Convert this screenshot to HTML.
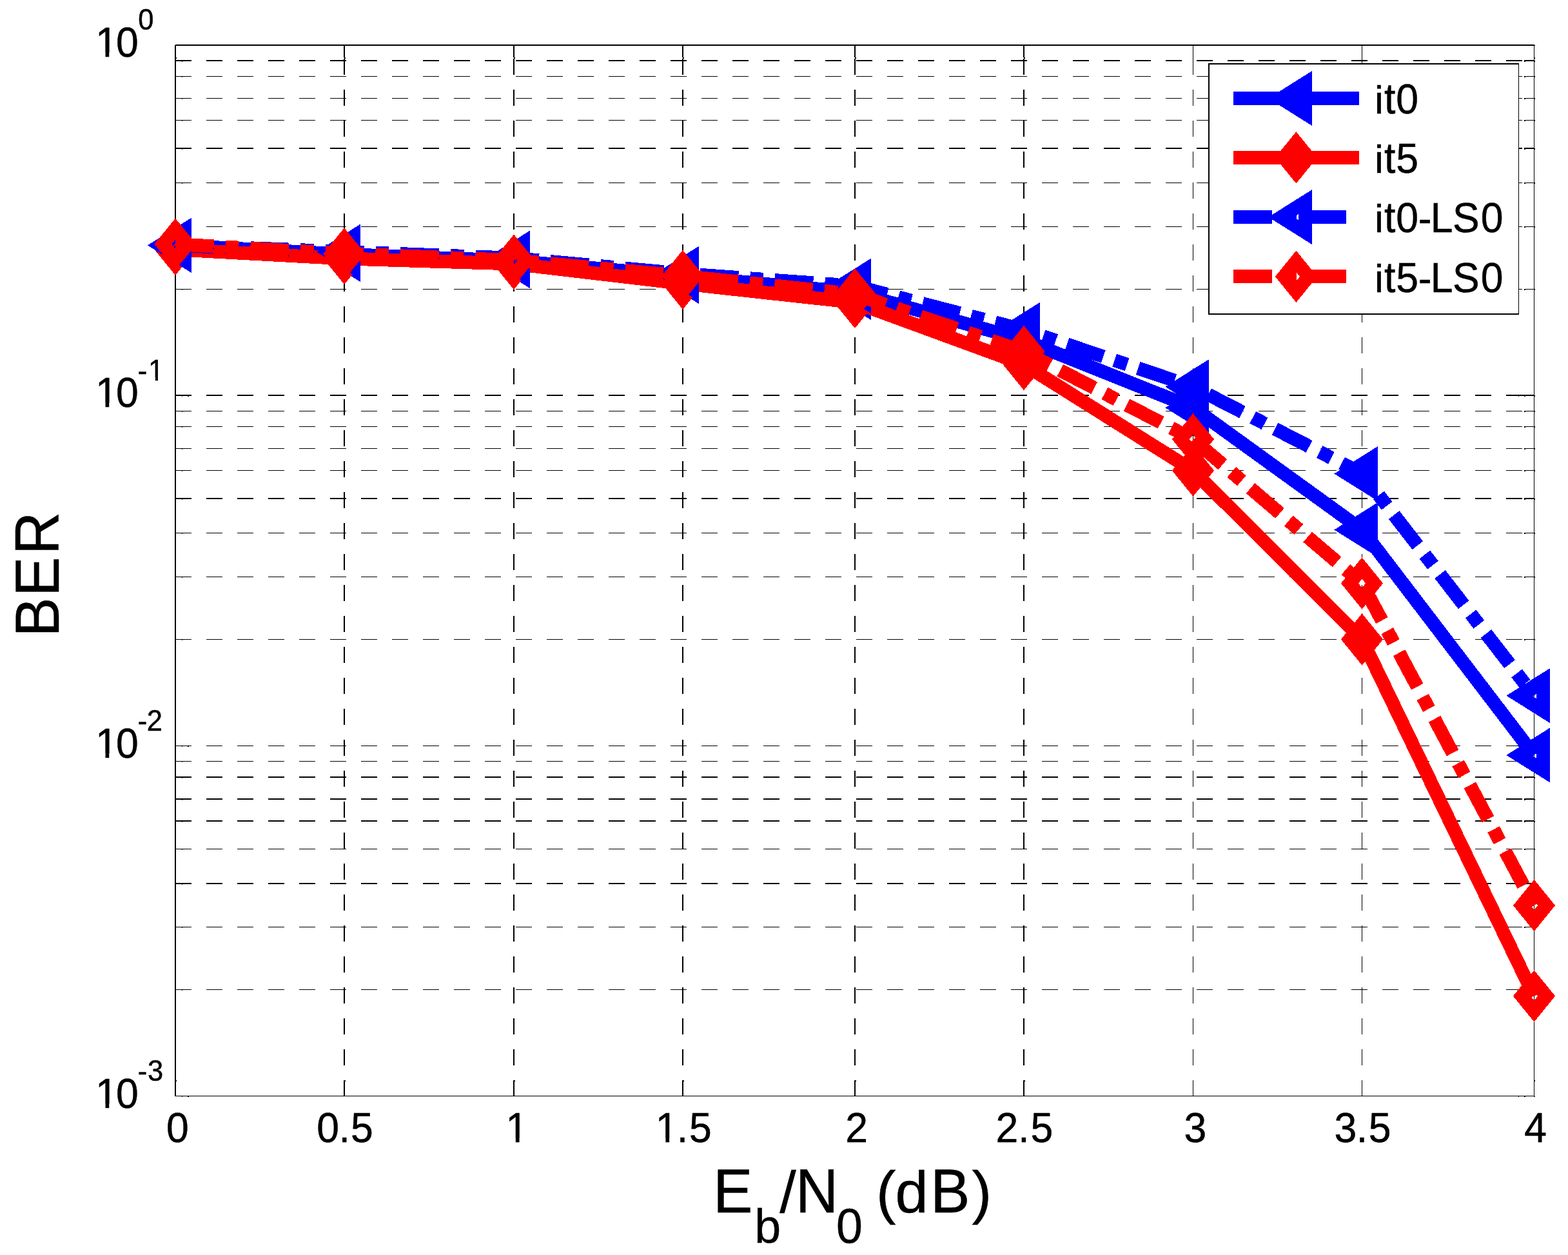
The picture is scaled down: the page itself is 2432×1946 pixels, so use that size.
<!DOCTYPE html>
<html lang="en"><head><meta charset="utf-8"><title>BER vs Eb/N0</title>
<style>html,body{margin:0;padding:0;background:#fff}body{width:2432px;height:1946px}svg{display:block}text{font-family:"Liberation Sans","DejaVu Sans",sans-serif;fill:#000;stroke:#000;stroke-width:0.5px}.tk{font-size:62.5px}.ex{font-size:41.7px}.lb{font-size:91.7px}.sb{font-size:73px}</style></head><body>
<svg xmlns="http://www.w3.org/2000/svg" width="2432" height="1946" viewBox="0 0 2432 1946">
<rect x="0" y="0" width="2432" height="1946" fill="#fff"/>
<g id="grid" stroke="#000" fill="none" shape-rendering="crispEdges">
<line x1="534" y1="1700" x2="534" y2="69" stroke-width="2" stroke-dasharray="25 23"/>
<line x1="797" y1="1700" x2="797" y2="69" stroke-width="2" stroke-dasharray="25 23"/>
<line x1="1059" y1="1700" x2="1059" y2="69" stroke-width="2" stroke-dasharray="25 23"/>
<line x1="1326" y1="1700" x2="1326" y2="69" stroke-width="2" stroke-dasharray="25 23"/>
<line x1="1588" y1="1700" x2="1588" y2="69" stroke-width="2" stroke-dasharray="25 23"/>
<line x1="1850.5" y1="1700" x2="1850.5" y2="69" stroke-width="1" stroke-dasharray="25 23"/>
<line x1="2112.5" y1="1700" x2="2112.5" y2="69" stroke-width="1" stroke-dasharray="25 23"/>
<line x1="272" y1="94" x2="2379" y2="94" stroke-width="2" stroke-dasharray="25 23"/>
<line x1="272" y1="118.5" x2="2379" y2="118.5" stroke-width="1" stroke-dasharray="25 23"/>
<line x1="272" y1="152.5" x2="2379" y2="152.5" stroke-width="1" stroke-dasharray="25 23"/>
<line x1="272" y1="186.5" x2="2379" y2="186.5" stroke-width="1" stroke-dasharray="25 23"/>
<line x1="272" y1="230" x2="2379" y2="230" stroke-width="2" stroke-dasharray="25 23"/>
<line x1="272" y1="283.5" x2="2379" y2="283.5" stroke-width="1" stroke-dasharray="25 23"/>
<line x1="272" y1="351.5" x2="2379" y2="351.5" stroke-width="1" stroke-dasharray="25 23"/>
<line x1="272" y1="448.5" x2="2379" y2="448.5" stroke-width="1" stroke-dasharray="25 23"/>
<line x1="272" y1="613" x2="2379" y2="613" stroke-width="2" stroke-dasharray="25 23"/>
<line x1="272" y1="637.5" x2="2379" y2="637.5" stroke-width="1" stroke-dasharray="25 23"/>
<line x1="272" y1="661.5" x2="2379" y2="661.5" stroke-width="1" stroke-dasharray="25 23"/>
<line x1="272" y1="695.5" x2="2379" y2="695.5" stroke-width="1" stroke-dasharray="25 23"/>
<line x1="272" y1="729.5" x2="2379" y2="729.5" stroke-width="1" stroke-dasharray="25 23"/>
<line x1="272" y1="773" x2="2379" y2="773" stroke-width="2" stroke-dasharray="25 23"/>
<line x1="272" y1="826.5" x2="2379" y2="826.5" stroke-width="1" stroke-dasharray="25 23"/>
<line x1="272" y1="894.5" x2="2379" y2="894.5" stroke-width="1" stroke-dasharray="25 23"/>
<line x1="272" y1="991.5" x2="2379" y2="991.5" stroke-width="1" stroke-dasharray="25 23"/>
<line x1="272" y1="1156.5" x2="2379" y2="1156.5" stroke-width="1" stroke-dasharray="25 23"/>
<line x1="272" y1="1180.5" x2="2379" y2="1180.5" stroke-width="1" stroke-dasharray="25 23"/>
<line x1="272" y1="1205" x2="2379" y2="1205" stroke-width="2" stroke-dasharray="25 23"/>
<line x1="272" y1="1239" x2="2379" y2="1239" stroke-width="2" stroke-dasharray="25 23"/>
<line x1="272" y1="1273" x2="2379" y2="1273" stroke-width="2" stroke-dasharray="25 23"/>
<line x1="272" y1="1316.5" x2="2379" y2="1316.5" stroke-width="1" stroke-dasharray="25 23"/>
<line x1="272" y1="1370" x2="2379" y2="1370" stroke-width="2" stroke-dasharray="25 23"/>
<line x1="272" y1="1437.5" x2="2379" y2="1437.5" stroke-width="1" stroke-dasharray="25 23"/>
<line x1="272" y1="1534.5" x2="2379" y2="1534.5" stroke-width="1" stroke-dasharray="25 23"/>
</g>
<g id="axes" fill="#000" stroke="none" shape-rendering="crispEdges">
<rect x="271" y="69" width="2" height="1631"/>
<rect x="271" y="69" width="2109" height="2"/>
<rect x="2379" y="69" width="1" height="1631"/>
<rect x="271" y="1699" width="2109" height="1"/>
<rect x="533" y="70" width="2" height="21"/>
<rect x="533" y="1678" width="2" height="21"/>
<rect x="796" y="70" width="2" height="21"/>
<rect x="796" y="1678" width="2" height="21"/>
<rect x="1058" y="70" width="2" height="21"/>
<rect x="1058" y="1678" width="2" height="21"/>
<rect x="1325" y="70" width="2" height="21"/>
<rect x="1325" y="1678" width="2" height="21"/>
<rect x="1587" y="70" width="2" height="21"/>
<rect x="1587" y="1678" width="2" height="21"/>
<rect x="1850" y="70" width="1" height="21"/>
<rect x="1850" y="1678" width="1" height="21"/>
<rect x="2112" y="70" width="1" height="21"/>
<rect x="2112" y="1678" width="1" height="21"/>
<rect x="2364" y="93" width="15" height="2"/>
<rect x="273" y="93" width="10" height="2"/>
<rect x="282" y="95" width="1" height="1"/>
<rect x="2364" y="95" width="2" height="1"/>
<rect x="2380" y="94" width="1" height="2"/>
<rect x="2364" y="118" width="15" height="1"/>
<rect x="273" y="118" width="10" height="1"/>
<rect x="282" y="119" width="1" height="1"/>
<rect x="2364" y="119" width="2" height="1"/>
<rect x="2380" y="118" width="1" height="2"/>
<rect x="2364" y="152" width="15" height="1"/>
<rect x="273" y="152" width="10" height="1"/>
<rect x="282" y="153" width="1" height="1"/>
<rect x="2364" y="153" width="2" height="1"/>
<rect x="2380" y="152" width="1" height="2"/>
<rect x="2364" y="186" width="15" height="1"/>
<rect x="273" y="186" width="10" height="1"/>
<rect x="282" y="187" width="1" height="1"/>
<rect x="2364" y="187" width="2" height="1"/>
<rect x="2380" y="186" width="1" height="2"/>
<rect x="2364" y="229" width="15" height="2"/>
<rect x="273" y="229" width="10" height="2"/>
<rect x="282" y="231" width="1" height="1"/>
<rect x="2364" y="231" width="2" height="1"/>
<rect x="2380" y="230" width="1" height="2"/>
<rect x="2364" y="283" width="15" height="1"/>
<rect x="273" y="283" width="10" height="1"/>
<rect x="282" y="284" width="1" height="1"/>
<rect x="2364" y="284" width="2" height="1"/>
<rect x="2380" y="283" width="1" height="2"/>
<rect x="2364" y="351" width="15" height="1"/>
<rect x="273" y="351" width="10" height="1"/>
<rect x="282" y="352" width="1" height="1"/>
<rect x="2364" y="352" width="2" height="1"/>
<rect x="2380" y="351" width="1" height="2"/>
<rect x="2364" y="448" width="15" height="1"/>
<rect x="273" y="448" width="10" height="1"/>
<rect x="282" y="449" width="1" height="1"/>
<rect x="2364" y="449" width="2" height="1"/>
<rect x="2380" y="448" width="1" height="2"/>
<rect x="2355" y="612" width="24" height="2"/>
<rect x="273" y="612" width="21" height="2"/>
<rect x="282" y="614" width="1" height="1"/>
<rect x="2364" y="614" width="2" height="1"/>
<rect x="2380" y="613" width="1" height="2"/>
<rect x="291" y="614" width="2" height="1"/>
<rect x="2355" y="614" width="1" height="1"/>
<rect x="2364" y="637" width="15" height="1"/>
<rect x="273" y="637" width="10" height="1"/>
<rect x="282" y="638" width="1" height="1"/>
<rect x="2364" y="638" width="2" height="1"/>
<rect x="2380" y="637" width="1" height="2"/>
<rect x="2364" y="661" width="15" height="1"/>
<rect x="273" y="661" width="10" height="1"/>
<rect x="282" y="662" width="1" height="1"/>
<rect x="2364" y="662" width="2" height="1"/>
<rect x="2380" y="661" width="1" height="2"/>
<rect x="2364" y="695" width="15" height="1"/>
<rect x="273" y="695" width="10" height="1"/>
<rect x="282" y="696" width="1" height="1"/>
<rect x="2364" y="696" width="2" height="1"/>
<rect x="2380" y="695" width="1" height="2"/>
<rect x="2364" y="729" width="15" height="1"/>
<rect x="273" y="729" width="10" height="1"/>
<rect x="282" y="730" width="1" height="1"/>
<rect x="2364" y="730" width="2" height="1"/>
<rect x="2380" y="729" width="1" height="2"/>
<rect x="2364" y="772" width="15" height="2"/>
<rect x="273" y="772" width="10" height="2"/>
<rect x="282" y="774" width="1" height="1"/>
<rect x="2364" y="774" width="2" height="1"/>
<rect x="2380" y="773" width="1" height="2"/>
<rect x="2364" y="826" width="15" height="1"/>
<rect x="273" y="826" width="10" height="1"/>
<rect x="282" y="827" width="1" height="1"/>
<rect x="2364" y="827" width="2" height="1"/>
<rect x="2380" y="826" width="1" height="2"/>
<rect x="2364" y="894" width="15" height="1"/>
<rect x="273" y="894" width="10" height="1"/>
<rect x="282" y="895" width="1" height="1"/>
<rect x="2364" y="895" width="2" height="1"/>
<rect x="2380" y="894" width="1" height="2"/>
<rect x="2364" y="991" width="15" height="1"/>
<rect x="273" y="991" width="10" height="1"/>
<rect x="282" y="992" width="1" height="1"/>
<rect x="2364" y="992" width="2" height="1"/>
<rect x="2380" y="991" width="1" height="2"/>
<rect x="2355" y="1156" width="24" height="1"/>
<rect x="273" y="1156" width="21" height="1"/>
<rect x="282" y="1157" width="1" height="1"/>
<rect x="2364" y="1157" width="2" height="1"/>
<rect x="2380" y="1156" width="1" height="2"/>
<rect x="291" y="1157" width="2" height="1"/>
<rect x="2355" y="1157" width="1" height="1"/>
<rect x="2364" y="1180" width="15" height="1"/>
<rect x="273" y="1180" width="10" height="1"/>
<rect x="282" y="1181" width="1" height="1"/>
<rect x="2364" y="1181" width="2" height="1"/>
<rect x="2380" y="1180" width="1" height="2"/>
<rect x="2364" y="1204" width="15" height="2"/>
<rect x="273" y="1204" width="10" height="2"/>
<rect x="282" y="1206" width="1" height="1"/>
<rect x="2364" y="1206" width="2" height="1"/>
<rect x="2380" y="1205" width="1" height="2"/>
<rect x="2364" y="1238" width="15" height="2"/>
<rect x="273" y="1238" width="10" height="2"/>
<rect x="282" y="1240" width="1" height="1"/>
<rect x="2364" y="1240" width="2" height="1"/>
<rect x="2380" y="1239" width="1" height="2"/>
<rect x="2364" y="1272" width="15" height="2"/>
<rect x="273" y="1272" width="10" height="2"/>
<rect x="282" y="1274" width="1" height="1"/>
<rect x="2364" y="1274" width="2" height="1"/>
<rect x="2380" y="1273" width="1" height="2"/>
<rect x="2364" y="1316" width="15" height="1"/>
<rect x="273" y="1316" width="10" height="1"/>
<rect x="282" y="1317" width="1" height="1"/>
<rect x="2364" y="1317" width="2" height="1"/>
<rect x="2380" y="1316" width="1" height="2"/>
<rect x="2364" y="1369" width="15" height="2"/>
<rect x="273" y="1369" width="10" height="2"/>
<rect x="282" y="1371" width="1" height="1"/>
<rect x="2364" y="1371" width="2" height="1"/>
<rect x="2380" y="1370" width="1" height="2"/>
<rect x="2364" y="1437" width="15" height="1"/>
<rect x="273" y="1437" width="10" height="1"/>
<rect x="282" y="1438" width="1" height="1"/>
<rect x="2364" y="1438" width="2" height="1"/>
<rect x="2380" y="1437" width="1" height="2"/>
<rect x="2364" y="1534" width="15" height="1"/>
<rect x="273" y="1534" width="10" height="1"/>
<rect x="282" y="1535" width="1" height="1"/>
<rect x="2364" y="1535" width="2" height="1"/>
<rect x="2380" y="1534" width="1" height="2"/>
<rect x="535" y="89" width="1" height="2"/>
<rect x="533" y="89" width="1" height="2" fill="#fff"/>
<rect x="535" y="1675" width="1" height="2"/>
<rect x="798" y="89" width="1" height="2"/>
<rect x="796" y="89" width="1" height="2" fill="#fff"/>
<rect x="798" y="1675" width="1" height="2"/>
<rect x="1060" y="89" width="1" height="2"/>
<rect x="1058" y="89" width="1" height="2" fill="#fff"/>
<rect x="1060" y="1675" width="1" height="2"/>
<rect x="1327" y="89" width="1" height="2"/>
<rect x="1325" y="89" width="1" height="2" fill="#fff"/>
<rect x="1327" y="1675" width="1" height="2"/>
<rect x="1589" y="89" width="1" height="2"/>
<rect x="1587" y="89" width="1" height="2" fill="#fff"/>
<rect x="1589" y="1675" width="1" height="2"/>
<rect x="273" y="89" width="1" height="2"/>
<rect x="273" y="1675" width="1" height="2"/>
<rect x="2380" y="89" width="1" height="2"/>
<rect x="2380" y="1675" width="1" height="2"/>
<rect x="2380" y="70" width="1" height="1"/>
<rect x="2379" y="1700" width="2" height="1"/>
<rect x="282" y="1700" width="1" height="1"/>
<rect x="291" y="1700" width="2" height="1"/>
<rect x="2355" y="1700" width="1" height="1"/>
<rect x="2364" y="1700" width="2" height="1"/>
<rect x="271" y="69" width="1" height="1" fill="#fff"/>
</g>
<g id="data" shape-rendering="crispEdges">
<polyline points="272,380.4 534,394.4 797,404.4 1059,428.4 1326,453.5 1588,527.3 1850.5,632.2 2112.5,821.5 2379.5,1171" fill="none" stroke="#0000ff" stroke-width="21" stroke-linejoin="miter" stroke-linecap="butt"/>
<path d="M248.6 380.4 L286.4 356.7 L286.4 404.1 Z" fill="none" stroke="#0000ff" stroke-width="21" stroke-linejoin="miter" stroke-miterlimit="10"/>
<path d="M510.6 394.4 L548.4 370.7 L548.4 418.1 Z" fill="none" stroke="#0000ff" stroke-width="21" stroke-linejoin="miter" stroke-miterlimit="10"/>
<path d="M773.6 404.4 L811.4 380.7 L811.4 428.1 Z" fill="none" stroke="#0000ff" stroke-width="21" stroke-linejoin="miter" stroke-miterlimit="10"/>
<path d="M1035.6 428.4 L1073.4 404.7 L1073.4 452.1 Z" fill="none" stroke="#0000ff" stroke-width="21" stroke-linejoin="miter" stroke-miterlimit="10"/>
<path d="M1302.6 453.5 L1340.4 429.8 L1340.4 477.2 Z" fill="none" stroke="#0000ff" stroke-width="21" stroke-linejoin="miter" stroke-miterlimit="10"/>
<path d="M1564.6 527.3 L1602.4 503.6 L1602.4 551 Z" fill="none" stroke="#0000ff" stroke-width="21" stroke-linejoin="miter" stroke-miterlimit="10"/>
<path d="M1827.1 632.2 L1864.9 608.5 L1864.9 655.9 Z" fill="none" stroke="#0000ff" stroke-width="21" stroke-linejoin="miter" stroke-miterlimit="10"/>
<path d="M2089.1 821.5 L2126.9 797.8 L2126.9 845.2 Z" fill="none" stroke="#0000ff" stroke-width="21" stroke-linejoin="miter" stroke-miterlimit="10"/>
<path d="M2356.1 1171 L2393.9 1147.3 L2393.9 1194.7 Z" fill="none" stroke="#0000ff" stroke-width="21" stroke-linejoin="miter" stroke-miterlimit="10"/>
<polyline points="272,386.8 534,400.9 797,409 1059,439.7 1326,468.9 1588,565 1850.5,729.7 2112.5,991.4 2379.5,1544.5" fill="none" stroke="#ff0000" stroke-width="21" stroke-linejoin="miter" stroke-linecap="butt"/>
<path d="M272 363.3 L291.1 386.8 L272 410.3 L252.9 386.8 Z" fill="none" stroke="#ff0000" stroke-width="21" stroke-linejoin="miter" stroke-miterlimit="10"/>
<path d="M534 377.4 L553.1 400.9 L534 424.4 L514.9 400.9 Z" fill="none" stroke="#ff0000" stroke-width="21" stroke-linejoin="miter" stroke-miterlimit="10"/>
<path d="M797 385.5 L816.1 409 L797 432.5 L777.9 409 Z" fill="none" stroke="#ff0000" stroke-width="21" stroke-linejoin="miter" stroke-miterlimit="10"/>
<path d="M1059 416.2 L1078.1 439.7 L1059 463.2 L1039.9 439.7 Z" fill="none" stroke="#ff0000" stroke-width="21" stroke-linejoin="miter" stroke-miterlimit="10"/>
<path d="M1326 445.4 L1345.1 468.9 L1326 492.4 L1306.9 468.9 Z" fill="none" stroke="#ff0000" stroke-width="21" stroke-linejoin="miter" stroke-miterlimit="10"/>
<path d="M1588 541.5 L1607.1 565 L1588 588.5 L1568.9 565 Z" fill="none" stroke="#ff0000" stroke-width="21" stroke-linejoin="miter" stroke-miterlimit="10"/>
<path d="M1850.5 706.2 L1869.6 729.7 L1850.5 753.2 L1831.4 729.7 Z" fill="none" stroke="#ff0000" stroke-width="21" stroke-linejoin="miter" stroke-miterlimit="10"/>
<path d="M2112.5 967.9 L2131.6 991.4 L2112.5 1014.9 L2093.4 991.4 Z" fill="none" stroke="#ff0000" stroke-width="21" stroke-linejoin="miter" stroke-miterlimit="10"/>
<path d="M2379.5 1521 L2398.6 1544.5 L2379.5 1568 L2360.4 1544.5 Z" fill="none" stroke="#ff0000" stroke-width="21" stroke-linejoin="miter" stroke-miterlimit="10"/>
<polyline points="272,380.4 534,390.3 797,400.3 1059,424.4 1326,443.4 1588,511.5 1850.5,599.7 2112.5,734.5 2379.5,1078.7" fill="none" stroke="#0000ff" stroke-width="21" stroke-linejoin="miter" stroke-linecap="butt" stroke-dasharray="59.72 18.07 20.58 18.07"/>
<path d="M248.6 380.4 L286.4 356.7 L286.4 404.1 Z" fill="none" stroke="#0000ff" stroke-width="21" stroke-linejoin="miter" stroke-miterlimit="10"/>
<path d="M510.6 390.3 L548.4 366.6 L548.4 414 Z" fill="none" stroke="#0000ff" stroke-width="21" stroke-linejoin="miter" stroke-miterlimit="10"/>
<path d="M773.6 400.3 L811.4 376.6 L811.4 424 Z" fill="none" stroke="#0000ff" stroke-width="21" stroke-linejoin="miter" stroke-miterlimit="10"/>
<path d="M1035.6 424.4 L1073.4 400.7 L1073.4 448.1 Z" fill="none" stroke="#0000ff" stroke-width="21" stroke-linejoin="miter" stroke-miterlimit="10"/>
<path d="M1302.6 443.4 L1340.4 419.7 L1340.4 467.1 Z" fill="none" stroke="#0000ff" stroke-width="21" stroke-linejoin="miter" stroke-miterlimit="10"/>
<path d="M1564.6 511.5 L1602.4 487.8 L1602.4 535.2 Z" fill="none" stroke="#0000ff" stroke-width="21" stroke-linejoin="miter" stroke-miterlimit="10"/>
<path d="M1827.1 599.7 L1864.9 576 L1864.9 623.4 Z" fill="none" stroke="#0000ff" stroke-width="21" stroke-linejoin="miter" stroke-miterlimit="10"/>
<path d="M2089.1 734.5 L2126.9 710.8 L2126.9 758.2 Z" fill="none" stroke="#0000ff" stroke-width="21" stroke-linejoin="miter" stroke-miterlimit="10"/>
<path d="M2356.1 1078.7 L2393.9 1055 L2393.9 1102.4 Z" fill="none" stroke="#0000ff" stroke-width="21" stroke-linejoin="miter" stroke-miterlimit="10"/>
<polyline points="272,378.6 534,393.4 797,403.7 1059,427.9 1326,456.2 1588,545 1850.5,681.2 2112.5,904.5 2379.5,1404" fill="none" stroke="#ff0000" stroke-width="21" stroke-linejoin="miter" stroke-linecap="butt" stroke-dasharray="59.72 18.07 20.58 18.07"/>
<path d="M272 355.1 L291.1 378.6 L272 402.1 L252.9 378.6 Z" fill="none" stroke="#ff0000" stroke-width="21" stroke-linejoin="miter" stroke-miterlimit="10"/>
<path d="M534 369.9 L553.1 393.4 L534 416.9 L514.9 393.4 Z" fill="none" stroke="#ff0000" stroke-width="21" stroke-linejoin="miter" stroke-miterlimit="10"/>
<path d="M797 380.2 L816.1 403.7 L797 427.2 L777.9 403.7 Z" fill="none" stroke="#ff0000" stroke-width="21" stroke-linejoin="miter" stroke-miterlimit="10"/>
<path d="M1059 404.4 L1078.1 427.9 L1059 451.4 L1039.9 427.9 Z" fill="none" stroke="#ff0000" stroke-width="21" stroke-linejoin="miter" stroke-miterlimit="10"/>
<path d="M1326 432.7 L1345.1 456.2 L1326 479.7 L1306.9 456.2 Z" fill="none" stroke="#ff0000" stroke-width="21" stroke-linejoin="miter" stroke-miterlimit="10"/>
<path d="M1588 521.5 L1607.1 545 L1588 568.5 L1568.9 545 Z" fill="none" stroke="#ff0000" stroke-width="21" stroke-linejoin="miter" stroke-miterlimit="10"/>
<path d="M1850.5 657.7 L1869.6 681.2 L1850.5 704.7 L1831.4 681.2 Z" fill="none" stroke="#ff0000" stroke-width="21" stroke-linejoin="miter" stroke-miterlimit="10"/>
<path d="M2112.5 881 L2131.6 904.5 L2112.5 928 L2093.4 904.5 Z" fill="none" stroke="#ff0000" stroke-width="21" stroke-linejoin="miter" stroke-miterlimit="10"/>
<path d="M2379.5 1380.5 L2398.6 1404 L2379.5 1427.5 L2360.4 1404 Z" fill="none" stroke="#ff0000" stroke-width="21" stroke-linejoin="miter" stroke-miterlimit="10"/>
</g>
<g id="legend">
<rect x="1875" y="99" width="480.5" height="388" fill="#fff" stroke="none"/>
<g stroke="#000" fill="none" shape-rendering="crispEdges">
<line x1="1875" y1="98" x2="1875" y2="488" stroke-width="2"/>
<line x1="1874" y1="99" x2="2356" y2="99" stroke-width="2"/>
<line x1="2355.5" y1="99" x2="2355.5" y2="488" stroke-width="1"/>
<line x1="1874" y1="487" x2="2356" y2="487" stroke-width="2"/>
</g>
<g shape-rendering="crispEdges">
<line x1="1913" y1="152.5" x2="2108" y2="152.5" stroke="#0000ff" stroke-width="21"/>
<path d="M1987 152.5 L2024.8 128.8 L2024.8 176.2 Z" fill="none" stroke="#0000ff" stroke-width="21" stroke-linejoin="miter" stroke-miterlimit="10"/>
<line x1="1913" y1="244.4" x2="2108" y2="244.4" stroke="#ff0000" stroke-width="21"/>
<path d="M2010.4 220.9 L2029.5 244.4 L2010.4 267.9 L1991.3 244.4 Z" fill="none" stroke="#ff0000" stroke-width="21" stroke-linejoin="miter" stroke-miterlimit="10"/>
<line x1="1913" y1="336.6" x2="2088" y2="336.6" stroke="#0000ff" stroke-width="21" stroke-dasharray="59.72 18.07 20.58 18.07"/>
<path d="M1987 336.6 L2024.8 312.9 L2024.8 360.3 Z" fill="none" stroke="#0000ff" stroke-width="21" stroke-linejoin="miter" stroke-miterlimit="10"/>
<line x1="1913" y1="428.8" x2="2088" y2="428.8" stroke="#ff0000" stroke-width="21" stroke-dasharray="59.72 18.07 20.58 18.07"/>
<path d="M2010.4 405.3 L2029.5 428.8 L2010.4 452.3 L1991.3 428.8 Z" fill="none" stroke="#ff0000" stroke-width="21" stroke-linejoin="miter" stroke-miterlimit="10"/>
</g>
<defs>
<clipPath id="c1_625" clipPathUnits="userSpaceOnUse"><rect x="-6.25" y="-62.5" width="50" height="56.33"/><rect x="15.62" y="-7.67" width="5.72" height="8.67"/></clipPath>
<clipPath id="c1_435" clipPathUnits="userSpaceOnUse"><rect x="-4.35" y="-43.5" width="34.8" height="38.75"/><rect x="10.84" y="-6.25" width="4.04" height="7.25"/></clipPath>
</defs>
<text transform="translate(2132 176.2) scale(1 0.97)" x="0" y="0" font-size="62.5">i</text>
<text transform="translate(2146.88 176.2) scale(1 1.07)" x="0" y="0" font-size="62.5">t</text>
<text transform="translate(2165.25 176.2) scale(1 1.046)" x="0" y="0" font-size="62.5">0</text>
<text transform="translate(2132 268.1) scale(1 0.97)" x="0" y="0" font-size="62.5">i</text>
<text transform="translate(2146.88 268.1) scale(1 1.07)" x="0" y="0" font-size="62.5">t</text>
<text transform="translate(2165.25 268.1) scale(1 1.046)" x="0" y="0" font-size="62.5">5</text>
<text transform="translate(2132 360.3) scale(1 0.97)" x="0" y="0" font-size="62.5">i</text>
<text transform="translate(2146.88 360.3) scale(1 1.07)" x="0" y="0" font-size="62.5">t</text>
<text transform="translate(2165.25 360.3) scale(1 1.046)" x="0" y="0" font-size="62.5">0</text>
<text transform="translate(2199.8 360.3)" x="0" y="0" font-size="62.5">-</text>
<text transform="translate(2218.81 360.3) scale(1 1.046)" x="0 34.25 78.04" y="0" font-size="62.5">LS0</text>
<text transform="translate(2132 452.5) scale(1 0.97)" x="0" y="0" font-size="62.5">i</text>
<text transform="translate(2146.88 452.5) scale(1 1.07)" x="0" y="0" font-size="62.5">t</text>
<text transform="translate(2165.25 452.5) scale(1 1.046)" x="0" y="0" font-size="62.5">5</text>
<text transform="translate(2199.8 452.5)" x="0" y="0" font-size="62.5">-</text>
<text transform="translate(2218.81 452.5) scale(1 1.046)" x="0 34.25 78.04" y="0" font-size="62.5">LS0</text>
</g>
<g id="xticks">
<text transform="translate(258 1771.4) scale(1 1.046)" x="0" y="0" font-size="62.5">0</text>
<text transform="translate(491.3 1771.4) scale(1 1.046)" x="0 34.2 52.75" y="0" font-size="62.5">0.5</text>
<text transform="translate(784.2 1771.4) scale(1 1.046)" x="0" y="0" font-size="62.5" clip-path="url(#c1_625)">1</text>
<text transform="translate(1016.8 1771.4) scale(1 1.046)" x="0" y="0" font-size="62.5" clip-path="url(#c1_625)">1</text>
<text transform="translate(1049.65 1771.4) scale(1 1.046)" x="0 19.45" y="0" font-size="62.5">.5</text>
<text transform="translate(1311.3 1771.4) scale(1 1.046)" x="0" y="0" font-size="62.5">2</text>
<text transform="translate(1544.4 1771.4) scale(1 1.046)" x="0 34.9 54" y="0" font-size="62.5">2.5</text>
<text transform="translate(1836.4 1771.4) scale(1 1.046)" x="0" y="0" font-size="62.5">3</text>
<text transform="translate(2069.4 1771.4) scale(1 1.046)" x="0 34.45 53.25" y="0" font-size="62.5">3.5</text>
<text transform="translate(2364.2 1771.4) scale(1 1.046)" x="0" y="0" font-size="62.5">4</text>
</g>
<g id="yticks">
<text transform="translate(147.9 87.9) scale(1 1.046)" x="0" y="0" font-size="62.5" clip-path="url(#c1_625)">1</text>
<text transform="translate(180.1 87.9) scale(1 1.046)" x="0" y="0" font-size="62.5">0</text>
<text transform="translate(214.25 45.6) scale(1 1.046)" x="0" y="0" font-size="43.5">0</text>
<text transform="translate(147.9 630.9) scale(1 1.046)" x="0" y="0" font-size="62.5" clip-path="url(#c1_625)">1</text>
<text transform="translate(180.1 630.9) scale(1 1.046)" x="0" y="0" font-size="62.5">0</text>
<text transform="translate(213.8 589.9)" x="0" y="0" font-size="43.5">-</text>
<text transform="translate(230.1 589.9) scale(1 1.046)" x="0" y="0" font-size="43.5" clip-path="url(#c1_435)">1</text>
<text transform="translate(147.9 1174.8) scale(1 1.046)" x="0" y="0" font-size="62.5" clip-path="url(#c1_625)">1</text>
<text transform="translate(180.1 1174.8) scale(1 1.046)" x="0" y="0" font-size="62.5">0</text>
<text transform="translate(213.8 1132.9)" x="0" y="0" font-size="43.5">-</text>
<text transform="translate(227.8 1132.9) scale(1 1.046)" x="0" y="0" font-size="43.5">2</text>
<text transform="translate(147.9 1717.8) scale(1 1.046)" x="0" y="0" font-size="62.5" clip-path="url(#c1_625)">1</text>
<text transform="translate(180.1 1717.8) scale(1 1.046)" x="0" y="0" font-size="62.5">0</text>
<text transform="translate(213.8 1675.5)" x="0" y="0" font-size="43.5">-</text>
<text transform="translate(228.9 1675.5) scale(1 1.046)" x="0" y="0" font-size="43.5">3</text>
</g>
<g id="xlabel">
<text transform="translate(1106.2 1879.8) scale(1 1.046)" x="0" y="0" font-size="91.67">E</text>
<text transform="translate(1170.3 1926.5)" x="0" y="0" font-size="73.5">b</text>
<text transform="translate(1209.3 1879.8)" x="0" y="0" font-size="91.67">/</text>
<text transform="translate(1233.9 1879.8) scale(1 1.046)" x="0" y="0" font-size="91.67">N</text>
<text transform="translate(1297.1 1926.5) scale(1 1.046)" x="0" y="0" font-size="73.5">0</text>
<text transform="translate(1359 1879.8)" x="0 29.5" y="0" font-size="91.67">(d</text>
<text transform="translate(1443.2 1879.8) scale(1 1.046)" x="0" y="0" font-size="91.67">B</text>
<text transform="translate(1507.4 1879.8)" x="0" y="0" font-size="91.67">)</text>
</g>
<g id="ylabel">
<text transform="translate(91.06 987.5) rotate(-90) scale(1 1.046)" x="0 62.7 127.5" y="0" font-size="91.67">BER</text>
</g>
</svg></body></html>
